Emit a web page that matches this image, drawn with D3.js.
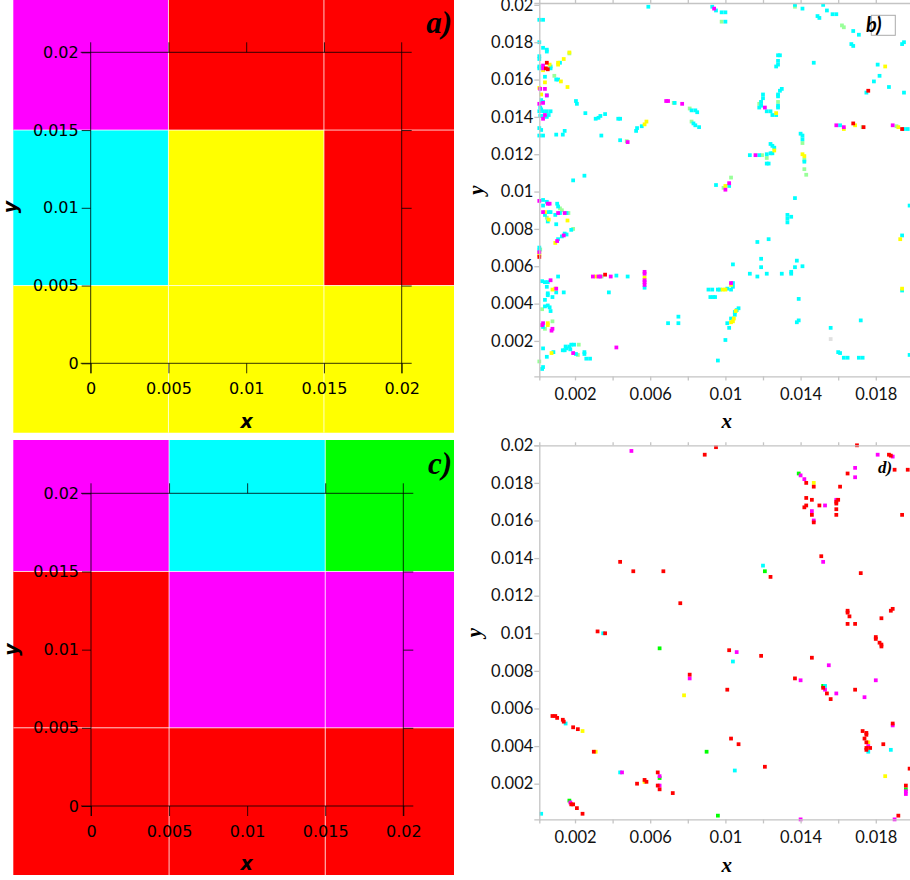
<!DOCTYPE html>
<html>
<head>
<meta charset="utf-8">
<script src="https://cdn.jsdelivr.net/npm/d3@7"></script>
<style>
  body { margin: 0; background: #fff; }
  svg { display: block; background: #fff; }
</style>
</head>
<body>
<svg id="chart" width="910" height="880"></svg>
<script>
// ---- block maps (panels a and c) ----
// one colour per 0.01 x 0.01 block, rows listed from the top (y = 0.02, 0.01, 0)
const blockCentres = [0, 0.01, 0.02];
const blocksA = [
  ["magenta", "red", "red"],
  ["cyan", "yellow", "red"],
  ["yellow", "yellow", "yellow"],
];
const blocksC = [
  ["magenta", "cyan", "green"],
  ["red", "magenta", "magenta"],
  ["red", "red", "red"],
];
const blockTicks = [0, 0.005, 0.01, 0.015, 0.02];

// ---- scatter maps (panels b and d), positions in mm ----
const bCyan = [
  [5.9,19.9],[9.3,19.9],[9.5,19.7],[9.8,19.6],[10.0,19.6],[10.0,19.1],[13.7,20.0],[14.1,19.8],[15.2,20.0],[15.4,19.7],
  [14.9,19.4],[15.0,19.3],[15.7,19.5],[15.9,19.5],[16.8,18.6],[17.1,18.4],[16.7,17.9],[16.8,17.8],[19.4,17.9],[19.5,18.0],
  [18.1,16.8],[18.2,16.2],[17.9,15.9],[18.7,15.6],[19.5,15.3],[17.5,15.3],[14.7,16.9],
  [12.8,17.3],[12.9,17.3],[12.8,17.0],[12.8,16.8],[12.7,16.7],[13.0,15.5],[12.9,15.4],[12.8,15.2],[12.8,15.1],
  [12.8,14.6],[12.8,14.5],[12.7,14.1],[12.0,15.2],[12.0,15.0],[11.9,14.8],[11.9,14.6],[11.8,14.5],[12.2,14.3],[12.4,14.3],[12.5,14.1],
  [14.0,13.1],[14.1,13.0],[14.1,12.8],[14.2,11.6],
  [12.4,12.55],[12.5,12.45],[12.6,12.35],[12.5,12.05],[12.4,12.05],[11.3,11.95],[11.8,11.95],[12.2,12.0],[12.2,11.5],[12.3,11.5],
  [16.1,13.55],[19.5,13.35],[19.7,13.35],[9.5,10.35],[10.2,10.3],[13.7,9.65],[19.8,9.25],
  [0.1,19.2],[0.3,19.2],[0.1,18.0],[0.3,17.7],[0.5,17.6],[0.5,17.5],[0.1,17.25],[0.1,17.1],[0.1,16.7],[0.1,16.6],
  [0.7,16.7],[0.7,16.6],[1.2,16.9],[1.0,16.0],[1.1,16.0],[0.4,16.15],[0.5,15.15],[0.2,14.9],[0.3,14.8],[0.15,14.5],
  [0.2,14.4],[0.1,14.3],[0.3,14.3],[0.5,14.3],[0.7,14.3],[0.15,14.05],[0.3,14.05],[0.6,14.1],[0.5,14.0],[0.1,13.4],
  [0.2,13.3],[0.1,13.0],[0.3,13.0],[1.0,13.05],[1.35,13.05],[1.45,13.25],[2.05,14.85],[2.1,14.7],[2.55,14.2],
  [3.1,13.9],[3.25,13.95],[3.35,14.05],[3.6,14.15],[3.4,13.0],[4.3,13.9],[4.4,13.9],[4.4,12.75],[5.25,13.25],[5.3,13.4],
  [5.55,13.5],[7.3,14.75],[8.2,14.35],[8.4,14.35],[8.5,14.25],[8.3,13.65],[8.4,13.55],[8.6,13.45],[1.9,10.6],[2.5,10.85],
  [0.3,9.55],[0.5,9.45],[0.3,9.25],[1.05,9.35],[1.1,9.2],[0.6,8.9],[0.7,8.9],[0.95,8.75],[1.2,8.85],[1.55,8.85],
  [0.55,8.4],[0.4,8.75],[1.0,8.25],[1.8,7.95],[1.45,7.75],[1.55,7.7],[1.3,7.6],[1.1,7.45],[0.1,7.0],[0.1,6.85],
  [4.2,5.5],[4.8,5.45],[3.8,4.6],[5.7,4.85],
  [0.25,5.2],[0.4,5.15],[0.55,5.15],[1.1,5.45],[0.5,4.9],[1.0,4.6],[1.4,4.6],[0.55,4.55],[0.55,4.45],[0.8,4.35],
  [0.4,4.2],[0.4,3.85],[0.55,3.9],[0.65,3.8],[0.7,3.6],[0.3,2.75],
  [0.3,1.6],[0.3,0.6],[0.25,0.5],[0.5,1.15],[0.85,1.4],[1.35,1.5],[1.45,1.5],[1.55,1.6],[1.75,1.55],[1.5,1.7],
  [1.7,1.7],[1.8,1.8],[1.95,1.8],[2.05,1.3],[2.5,1.4],[2.5,1.3],[2.6,1.05],[2.8,1.05],
  [6.95,2.95],[7.5,3.3],[7.5,2.95],[9.1,4.75],[9.3,4.75],[9.2,4.35],[9.35,4.35],[9.45,4.35],[9.6,4.75],[9.7,4.75],
  [10.1,4.8],[10.3,4.75],[10.4,4.9],[10.4,5.1],[10.0,2.05],[9.6,0.95],[10.1,2.95],[10.2,2.7],
  [13.3,8.75],[13.3,8.55],[13.5,8.65],[13.3,8.35],[11.7,7.3],[12.3,7.45],[11.9,6.4],[11.9,5.95],[10.4,6.1],[11.3,5.6],
  [11.7,5.45],[12.2,5.6],[13.0,5.6],[13.5,5.7],[13.5,5.6],[13.7,5.95],[13.8,6.3],[14.1,6.0],[13.9,4.25],
  [10.7,3.75],[10.6,3.65],[10.5,3.55],[10.5,3.4],[10.3,3.2],[13.9,3.1],[13.8,3.0],[15.6,2.7],[16.0,1.4],[16.1,1.35],
  [16.3,1.1],[16.5,1.1],[17.1,1.1],[17.3,1.1],[17.2,3.1],[19.8,1.25],[19.4,7.65],[19.4,4.7],
];
const bMagenta = [
  [9.4,19.8],[11.6,11.95],[12.1,14.5],[15.9,13.55],[16.3,13.45],[18.9,13.55],[10.0,10.1],[10.2,10.45],[0.3,16.75],[0.3,16.6],
  [0.15,15.5],[0.4,15.5],[0.5,15.15],[0.1,14.7],[0.3,14.75],[0.4,14.1],[0.3,13.9],[4.8,12.65],[6.85,14.85],[6.95,14.85],
  [7.7,14.7],[0.1,9.5],[0.55,9.35],[0.65,9.35],[0.3,8.9],[1.1,8.85],[1.45,8.85],[1.4,7.65],[1.05,7.35],[0.1,6.75],
  [2.95,5.45],[3.25,5.45],[3.35,5.45],[3.9,5.45],[5.7,5.7],[5.7,5.6],[5.7,5.25],[5.7,5.15],[5.7,5.0],[0.7,5.25],
  [1.0,4.8],[0.3,2.95],[0.25,2.85],[0.8,2.65],[0.75,2.55],[1.9,1.35],[4.2,1.65],[10.3,5.1],
];
const bYellow = [
  [12.7,14.2],[12.6,12.2],[14.1,12.0],[14.2,11.9],[16.3,13.35],[16.9,13.55],[19.2,13.45],[10.0,10.3],[18.5,16.7],
  [0.3,16.5],[0.65,16.8],[1.1,16.9],[1.1,16.8],[1.4,17.1],[1.7,17.45],[1.25,15.9],[1.6,15.6],[0.4,15.85],[0.1,15.55],
  [0.2,15.2],[5.7,13.6],[5.8,13.75],[0.4,8.9],[0.6,8.5],[1.6,8.45],[0.95,7.25],[0.1,6.7],[0.1,6.6],[3.1,5.45],
  [5.7,5.4],[0.95,4.8],[0.8,4.75],[0.55,2.95],[0.55,2.85],[0.75,1.35],[9.85,4.75],[10.0,4.75],[10.3,5.0],[10.55,3.6],
  [10.45,3.2],[10.4,3.05],[10.3,3.0],[19.3,7.45],[19.4,4.8],
];
const bRed = [
  [17.6,15.4],[16.8,13.65],[17.35,13.45],[19.4,13.35],[0.5,16.9],[0.45,16.6],[0.55,16.55],[0.1,6.5],[3.6,5.55],
];
const bGreen = [
  [9.8,19.1],[13.7,19.9],[16.2,18.9],[16.3,18.8],[12.8,14.8],[11.9,14.8],[11.8,14.7],[14.1,12.6],[14.2,11.7],[14.2,11.2],
  [14.3,10.9],[11.95,11.95],[12.2,11.8],[17.3,13.45],[19.1,13.5],[9.9,10.2],[10.3,10.75],[7.25,14.75],[8.1,14.45],[8.2,13.75],
  [4.75,12.7],[1.7,17.4],[0.9,16.2],[1.2,9.1],[1.3,9.0],[1.65,8.85],[0.5,8.6],[1.9,8.0],[0.15,6.9],[3.42,5.45],
  [0.25,3.7],[0.4,2.65],[0.8,3.05],[0.1,0.9],[2.2,1.8],[2.15,1.25],
];
const bGrey = [[15.6,2.1]];

const dRed = [
  [8.9,19.5],[9.5,19.9],[4.4,13.8],[5.1,13.3],[6.7,13.3],[7.6,11.6],[3.2,10.1],[3.6,10.0],[10.2,9.1],[8.1,7.8],
  [10.1,7.0],[0.8,5.6],[0.95,5.6],[1.05,5.5],[1.35,5.4],[1.4,5.3],[1.9,5.0],[2.15,4.9],[3.0,3.7],[6.4,2.6],
  [5.3,2.0],[5.7,2.2],[5.8,2.1],[6.4,1.9],[6.5,1.7],[7.2,1.5],[1.8,0.9],[1.9,0.9],[2.1,0.7],[2.4,0.4],
  [10.3,4.4],[10.7,4.1],[17.0,20.0],[18.7,19.5],[18.8,19.45],[16.5,18.5],[19.0,18.7],[19.7,18.7],[14.3,18.0],[14.7,17.8],
  [16.1,17.8],[14.3,17.2],[14.6,17.1],[14.3,16.8],[14.2,16.7],[15.0,16.8],[16.0,17.1],[15.9,17.0],[15.9,16.9],[15.9,16.6],
  [15.9,16.3],[14.6,16.3],[14.7,15.9],[19.4,16.3],[15.1,14.1],[12.4,13.0],[17.2,13.2],[16.5,11.2],[16.5,11.1],[16.6,10.9],
  [16.5,10.5],[16.9,10.5],[18.9,11.3],[18.8,11.2],[18.3,10.8],[18.0,9.8],[18.0,9.7],[18.2,9.5],[18.3,9.4],[18.3,9.3],
  [11.9,8.8],[14.6,8.7],[13.7,7.6],[15.2,7.1],[15.4,6.8],[15.6,6.5],[16.9,7.0],[18.9,5.2],[17.3,4.8],[17.5,4.7],
  [17.5,4.6],[17.4,4.4],[17.5,4.2],[17.7,3.9],[17.5,3.9],[17.5,3.8],[18.4,4.1],[12.1,2.9],[19.8,2.8],[19.6,1.9],[19.2,0.3],
];
const dMagenta = [
  [5.0,19.7],[4.5,2.6],[6.5,2.4],[6.5,1.9],[8.1,7.6],[1.75,1.0],[18.1,19.5],[18.9,19.4],[16.9,18.8],[16.9,18.3],
  [14.0,18.4],[14.2,18.2],[15.3,16.8],[15.9,17.1],[14.6,16.5],[14.7,16.0],[15.2,13.8],[10.6,9.0],[15.5,8.3],[14.0,7.5],
  [18.0,7.5],[15.3,7.0],[15.9,6.8],[17.4,6.6],[18.9,5.1],[17.6,4.0],[19.6,1.6],[19.6,1.45],[19.0,0.1],[14.0,0.1],
];
const dCyan = [
  [3.5,10.0],[1.5,5.2],[4.4,2.6],[0.2,0.4],[12.0,13.6],[10.4,8.5],[15.3,7.2],[17.6,3.7],[18.8,3.8],[10.5,2.7],
];
const dYellow = [[7.8,6.7],[2.4,4.8],[3.1,3.7],[5.7,2.1],[14.7,18.0],[17.6,4.2],[18.5,2.4]];
const dGreen = [[6.5,9.2],[6.5,2.3],[9.0,3.7],[9.6,0.3],[1.7,1.1],[13.9,18.5],[12.1,13.3],[15.2,7.2],[19.6,1.7]];

const scatterXTicks = d3.range(1, 10).map((i) => i * 0.002);
const scatterYTicks = d3.range(1, 11).map((i) => i * 0.002);

const colors = {
  magenta: "#ff00ff",
  red: "#ff0000",
  cyan: "#00ffff",
  yellow: "#ffff00",
  green: "#00ff00",
};

const svg = d3.select("#chart");
const fmt = (d) => String(+d.toFixed(3));

// panels a / c
const drawBlocks = ({ id, blocks, x, y, box }) => {
  const g = svg.append("g");
  svg.append("clipPath").attr("id", id)
    .append("rect")
    .attr("x", box[0]).attr("y", box[1])
    .attr("width", box[2] - box[0]).attr("height", box[3] - box[1]);

  const cells = g.append("g").attr("clip-path", `url(#${id})`);
  blocks.forEach((row, r) => {
    row.forEach((c, k) => {
      const cx = blockCentres[k];
      const cy = blockCentres[2 - r];
      cells.append("rect")
        .attr("x", x(cx - 0.005))
        .attr("y", y(cy + 0.005))
        .attr("width", x(cx + 0.005) - x(cx - 0.005))
        .attr("height", y(cy - 0.005) - y(cy + 0.005))
        .attr("fill", colors[c]);
    });
  });

  // light seams between blocks
  [0.005, 0.015].forEach((v) => {
    cells.append("line")
      .attr("x1", x(v)).attr("x2", x(v)).attr("y1", box[1]).attr("y2", box[3])
      .attr("stroke", "#fff").attr("stroke-opacity", 0.75);
    cells.append("line")
      .attr("x1", box[0]).attr("x2", box[2]).attr("y1", y(v)).attr("y2", y(v))
      .attr("stroke", "#fff").attr("stroke-opacity", 0.75);
  });

  // box frame, lines run 10px past the corners
  const frame = g.append("g").attr("stroke", "#000").attr("stroke-opacity", 0.8);
  [0, 0.02].forEach((v) => {
    frame.append("line")
      .attr("x1", x(0) - 10).attr("x2", x(0.02) + 10).attr("y1", y(v)).attr("y2", y(v));
    frame.append("line")
      .attr("y1", y(0.02) - 10).attr("y2", y(0) + 10).attr("x1", x(v)).attr("x2", x(v));
  });

  const inner = [0.005, 0.01, 0.015];
  const axes = [
    [d3.axisLeft(y).tickValues(blockTicks).tickSize(9).tickPadding(3).tickFormat(fmt), `translate(${x(0)},0)`],
    [d3.axisBottom(x).tickValues(blockTicks).tickSize(10).tickPadding(9.5).tickFormat(fmt), `translate(0,${y(0)})`],
    [d3.axisTop(x).tickValues(inner).tickSize(10).tickFormat(""), `translate(0,${y(0.02)})`],
    [d3.axisRight(y).tickValues(inner).tickSize(10).tickFormat(""), `translate(${x(0.02)},0)`],
  ];
  axes.forEach(([ax, tr]) => {
    const a = g.append("g").attr("transform", tr).call(ax);
    a.select(".domain").remove();
    a.selectAll("line").attr("stroke", "#000").attr("stroke-opacity", 0.8);
    a.selectAll("text")
      .attr("fill", "#000")
      .style("font-family", "'DejaVu Sans', sans-serif")
      .style("font-size", "16px");
  });
  return g;
};

const gA = drawBlocks({
  id: "clipA",
  blocks: blocksA,
  x: d3.scaleLinear([0, 0.02], [90.7, 401.7]),
  y: d3.scaleLinear([0, 0.02], [363.3, 52.3]),
  box: [13.3, 0, 454, 432.7],
});
const gC = drawBlocks({
  id: "clipC",
  blocks: blocksC,
  x: d3.scaleLinear([0, 0.02], [91, 403.3]),
  y: d3.scaleLinear([0, 0.02], [806, 493.3]),
  box: [13.3, 440, 454, 875],
});

const sansTitle = (g, t, x, y, rot) => {
  g.append("text")
    .attr("transform", `translate(${x},${y})` + (rot ? " rotate(-90)" : ""))
    .attr("text-anchor", "middle")
    .style("font-family", "'DejaVu Sans', sans-serif")
    .style("font-size", "19px")
    .style("font-weight", "bold")
    .style("font-style", "italic")
    .text(t);
};
sansTitle(gA, "x", 246.7, 427.5);
sansTitle(gA, "y", 17.3, 207, true);
sansTitle(gC, "x", 246.7, 870);
sansTitle(gC, "y", 17.9, 649.5, true);

const panelTag = (t, x, y, size, family, anchor) => {
  svg.append("text")
    .attr("x", x).attr("y", y)
    .attr("text-anchor", anchor)
    .style("font-family", family)
    .style("font-size", size + "px")
    .style("font-weight", "bold")
    .style("font-style", "italic")
    .text(t);
};
panelTag("a)", 452, 33, 31, "'Liberation Serif', serif", "end");
panelTag("c)", 452, 474, 31, "'Liberation Serif', serif", "end");

// panels b / d
const drawScatter = ({ x, y, series }) => {
  const g = svg.append("g");
  const size = x(0.0002) - x(0);

  series.forEach(([pts, fill]) => {
    g.append("g")
      .selectAll("rect")
      .data(pts)
      .join("rect")
      .attr("x", (d) => x(d[0] / 1000) - size / 2)
      .attr("y", (d) => y(d[1] / 1000) - size / 2)
      .attr("width", size)
      .attr("height", size)
      .attr("fill", fill);
  });

  const [top] = y.domain().slice(-1);
  const axes = [
    [d3.axisBottom(x).tickValues(scatterXTicks).tickSize(4).tickPadding(8)
      .tickFormat((d) => (Math.round(d / 0.002) % 2 === 1 ? fmt(d) : "")), `translate(0,${y.range()[0]})`],
    [d3.axisLeft(y).tickValues(scatterYTicks).tickSize(5).tickPadding(1).tickFormat(fmt), `translate(${x.range()[0]},0)`],
    [d3.axisTop(x).tickValues(scatterXTicks).tickSize(3).tickFormat(""), `translate(0,${y(top)})`],
  ];
  axes.forEach(([ax, tr]) => {
    const a = g.append("g").attr("transform", tr).call(ax);
    a.selectAll(".domain, line").attr("stroke", "#c4c4c4").attr("stroke-width", 1.3);
    a.selectAll("text")
      .attr("fill", "#111")
      .style("font-family", "Lato, sans-serif")
      .style("font-size", "16.5px");
  });
  return g;
};

const lightGreen = "#99ff99";
const gB = drawScatter({
  x: d3.scaleLinear([0.0001, 0.0199], [539.3, 911.5]),
  y: d3.scaleLinear([0.0001, 0.0201], [376.4, 3.0]),
  series: [
    [bGreen, lightGreen],
    [bGrey, "#e0e0e0"],
    [bCyan, colors.cyan],
    [bYellow, colors.yellow],
    [bMagenta, colors.magenta],
    [bRed, colors.red],
  ],
});
const gD = drawScatter({
  x: d3.scaleLinear([0.0001, 0.0199], [539.3, 911.5]),
  y: d3.scaleLinear([0.0001, 0.02], [819.4, 445.3]),
  series: [
    [dGreen, colors.green],
    [dCyan, colors.cyan],
    [dYellow, colors.yellow],
    [dMagenta, colors.magenta],
    [dRed, colors.red],
  ],
});

const serifTitle = (g, t, x, y, rot) => {
  g.append("text")
    .attr("transform", `translate(${x},${y})` + (rot ? " rotate(-90)" : ""))
    .attr("text-anchor", "middle")
    .style("font-family", "'Liberation Serif', serif")
    .style("font-size", "21px")
    .style("font-weight", "bold")
    .style("font-style", "italic")
    .text(t);
};
serifTitle(gB, "x", 726.7, 427.5);
serifTitle(gB, "y", 482.5, 190, true);
serifTitle(gD, "x", 726.7, 871.5);
serifTitle(gD, "y", 481, 632.5, true);

// "b)" sits over a small grey box
svg.append("rect")
  .attr("x", 871.3).attr("y", 15.3).attr("width", 24).attr("height", 20)
  .attr("fill", "none").attr("stroke", "#aaa");
panelTag("b)", 866, 32, 20, "Lato, sans-serif", "start");
panelTag("d)", 878, 473, 17, "'Liberation Serif', serif", "start");
</script>
</body>
</html>
